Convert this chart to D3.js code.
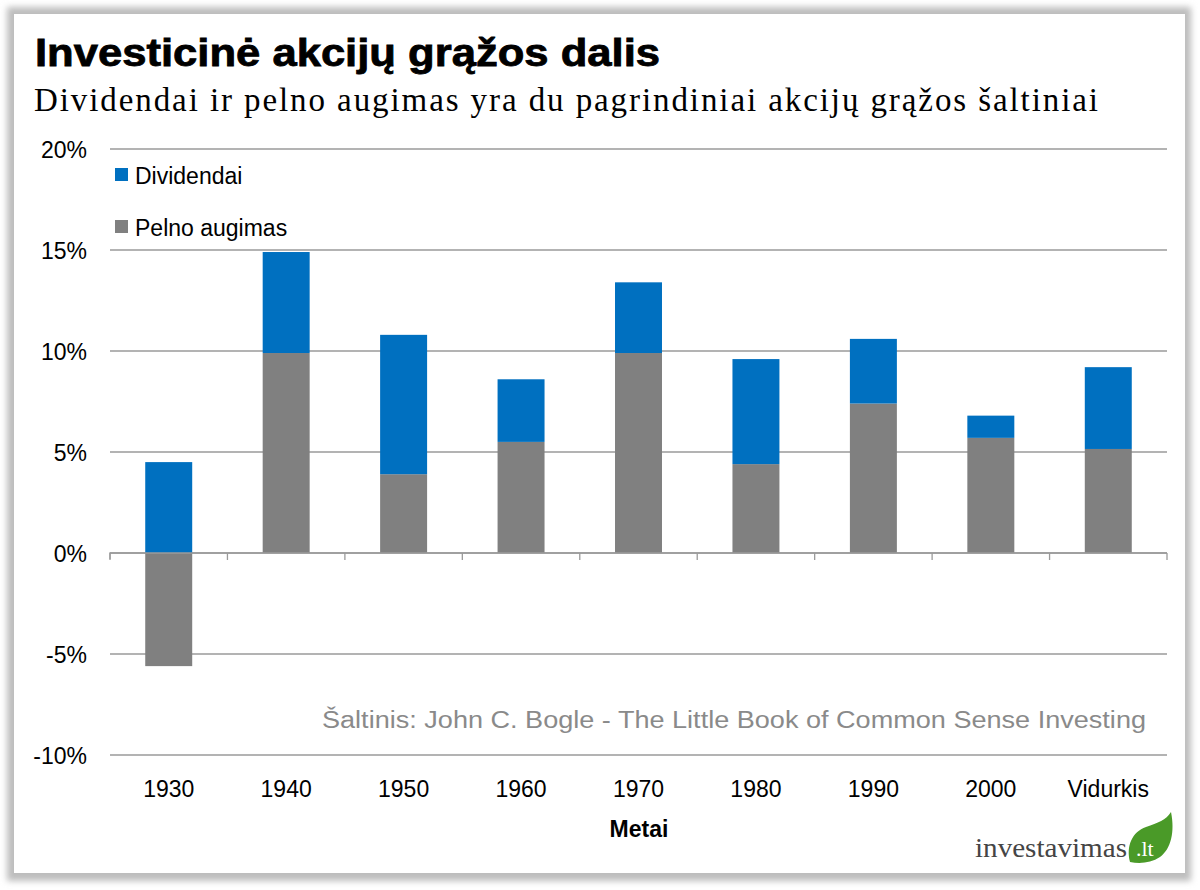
<!DOCTYPE html>
<html><head><meta charset="utf-8">
<script src="https://cdn.jsdelivr.net/npm/d3@7"></script>
<style>body{margin:0;background:#fff}svg{display:block}</style>
</head><body>
<svg id="chart" width="1200" height="890"></svg>
<script>
const categories = ["1930","1940","1950","1960","1970","1980","1990","2000","Vidurkis"];
const earningsGrowth = [-5.6, 9.9, 3.9, 5.5, 9.9, 4.4, 7.4, 5.7, 5.15];
const dividends = [4.5, 5.0, 6.9, 3.1, 3.5, 5.2, 3.2, 1.1, 4.05];
const yTicks = [-10, -5, 0, 5, 10, 15, 20];
const seriesNames = ["Dividendai", "Pelno augimas"];
const colors = {div: "#0070C0", growth: "#808080"};

const sans = "'Liberation Sans', Arial, sans-serif";
const serif = "'Liberation Serif', 'Times New Roman', serif";

const svg = d3.select("#chart");
const defs = svg.append("defs");
const f = defs.append("filter").attr("id","sh").attr("x","-5%").attr("y","-5%").attr("width","110%").attr("height","110%");
f.append("feGaussianBlur").attr("stdDeviation", 3);

// frame
svg.append("rect").attr("x",7).attr("y",7).attr("width",1184).attr("height",874).attr("fill","#bdbdbd").attr("filter","url(#sh)");
svg.append("rect").attr("x",14).attr("y",14).attr("width",1171).attr("height",859).attr("fill","#fff");

// titles
svg.append("text").attr("x",35).attr("y",66).text("Investicinė akcijų grąžos dalis")
  .attr("font-family",sans).attr("font-weight","bold").attr("font-size",38).attr("fill","#000")
  .attr("stroke","#000").attr("stroke-width",0.8)
  .attr("textLength", 625).attr("lengthAdjust","spacingAndGlyphs");
svg.append("text").attr("x",34).attr("y",111).text("Dividendai ir pelno augimas  yra du pagrindiniai  akcijų  grąžos  šaltiniai")
  .attr("font-family",serif).attr("font-size",33).attr("fill","#000")
  .attr("textLength", 1064).attr("lengthAdjust","spacing");

const x = d3.scaleBand().domain(categories).range([110, 1167]).paddingInner(0.6).paddingOuter(0.3);
const xOuter = d3.scaleBand().domain(categories).range([110, 1167]);
const y = d3.scaleLinear().domain([-10, 20]).range([755, 149]);

// gridlines
svg.append("g").selectAll("line").data(yTicks).join("line")
  .attr("x1",110).attr("x2",1167).attr("y1",d=>y(d)).attr("y2",d=>y(d))
  .attr("stroke","#9a9a9a").attr("stroke-width",1.3);

// y axis labels
const yAxis = d3.axisLeft(y).tickValues(yTicks).tickFormat(d=>d+"%").tickSize(0).tickPadding(0);
const gy = svg.append("g").attr("transform","translate(87,0)").call(yAxis);
gy.select(".domain").remove();
gy.selectAll("text").attr("font-family",sans).attr("font-size",23).attr("fill","#000").attr("dy","0.35em");

// bars
const g = svg.append("g");
g.selectAll("rect.growth").data(categories).join("rect").attr("class","growth")
  .attr("x",d=>x(d)).attr("width",x.bandwidth())
  .attr("y",(d,i)=>y(Math.max(0,earningsGrowth[i])))
  .attr("height",(d,i)=>Math.abs(y(earningsGrowth[i])-y(0)))
  .attr("fill",colors.growth);
g.selectAll("rect.div").data(categories).join("rect").attr("class","div")
  .attr("x",d=>x(d)).attr("width",x.bandwidth())
  .attr("y",(d,i)=>{const base=Math.max(0,earningsGrowth[i]);return y(base+dividends[i]);})
  .attr("height",(d,i)=>y(0)-y(dividends[i]))
  .attr("fill",colors.div);

// x axis at zero
const xAxis = d3.axisBottom(xOuter).tickSize(6).tickFormat("");
const gx = svg.append("g").attr("transform",`translate(0,${y(0)})`).call(xAxis);
gx.select(".domain").attr("stroke","#9a9a9a").attr("stroke-width",1.3).attr("d","M110,6V0H1167");
gx.selectAll(".tick").remove();
const bounds = categories.map(c=>xOuter(c)).concat([1167]);
gx.selectAll("line.tk").data(bounds).join("line").attr("class","tk")
  .attr("x1",d=>d).attr("x2",d=>d).attr("y1",0).attr("y2",7).attr("stroke","#9a9a9a").attr("stroke-width",1.3);

// category labels
svg.append("g").selectAll("text").data(categories).join("text")
  .attr("x",d=>xOuter(d)+xOuter.bandwidth()/2).attr("y",797).attr("text-anchor","middle")
  .attr("font-family",sans).attr("font-size",23).attr("fill","#000").text(d=>d);

svg.append("text").attr("x",639).attr("y",837).attr("text-anchor","middle").text("Metai")
  .attr("font-family",sans).attr("font-weight","bold").attr("font-size",23).attr("fill","#000");

// legend
const leg = svg.append("g");
const legendColors = [colors.div, colors.growth];
leg.selectAll("rect").data(seriesNames).join("rect")
  .attr("x",115).attr("y",(d,i)=>168+i*52).attr("width",13).attr("height",13).attr("fill",(d,i)=>legendColors[i]);
leg.selectAll("text").data(seriesNames).join("text")
  .attr("x",135).attr("y",(d,i)=>184+i*52).text(d=>d)
  .attr("font-family",sans).attr("font-size",23).attr("fill","#000");

// source
svg.append("text").attr("x",1146).attr("y",728).attr("text-anchor","end")
  .text("Šaltinis: John C. Bogle - The Little Book of Common  Sense Investing")
  .attr("font-family",sans).attr("font-size",23).attr("fill","#8a8a8a")
  .attr("textLength",824).attr("lengthAdjust","spacingAndGlyphs");

// logo
svg.append("text").attr("x",975).attr("y",857).text("investavimas")
  .attr("font-family",serif).attr("font-size",28).attr("fill","#454545")
  .attr("textLength",152).attr("lengthAdjust","spacingAndGlyphs");
svg.append("path").attr("d","M1130,862 C1126,846 1132,832 1146,827 C1158,823 1166,820 1171,812 C1175,832 1171,849 1160,857 C1151,863 1140,864 1130,862 Z")
  .attr("fill","#4a9a28");
svg.append("text").attr("x",1136).attr("y",856).text(".lt")
  .attr("font-family",serif).attr("font-size",22).attr("fill","#fff");
</script>
</body></html>
